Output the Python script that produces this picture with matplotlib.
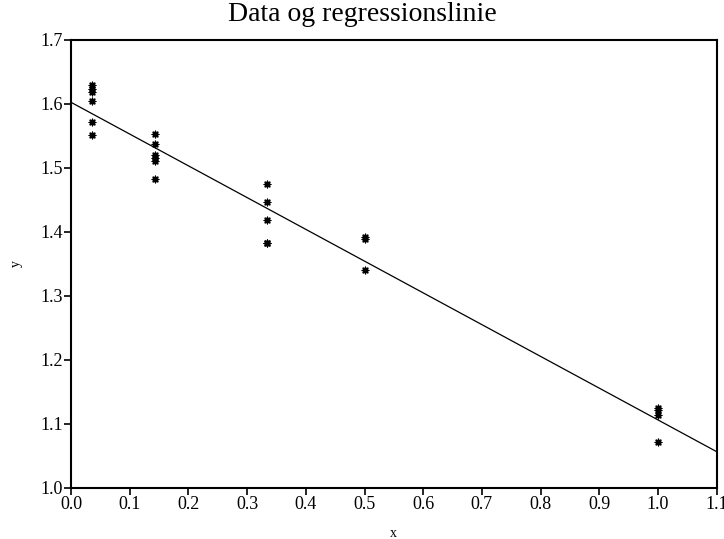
import matplotlib
matplotlib.use("Agg")
import matplotlib.pyplot as plt
import numpy as np

plt.rcParams['font.family'] = ['Liberation Serif', 'DejaVu Serif']

# x groups (concentration-like values) and observed y
x_groups = [1/28, 1/7, 1/3, 0.5, 1.0]
y_groups = [
    [1.629, 1.623, 1.619, 1.604, 1.571, 1.552],
    [1.553, 1.537, 1.520, 1.515, 1.510, 1.483],
    [1.474, 1.447, 1.418, 1.383, 1.382],
    [1.392, 1.389, 1.340],
    [1.124, 1.121, 1.113, 1.071],
]

xs = np.concatenate([[xv] * len(yv) for xv, yv in zip(x_groups, y_groups)])
ys = np.concatenate(y_groups)

slope, intercept = np.polyfit(xs, ys, 1)

fig = plt.figure(figsize=(7.24, 5.39), dpi=100)
ax = fig.add_axes([0.098, 0.095, 0.892, 0.831])

ax.scatter(xs, ys, marker=(8, 2, 0), s=22, color='black', linewidths=1.0, zorder=3)
xline = np.array([0.0, 1.1])
ax.plot(xline, intercept + slope * xline, color='black', linewidth=0.9)

ax.set_xlim(0, 1.1)
ax.set_ylim(1.0, 1.7)
ax.set_xticks(np.arange(0, 1.11, 0.1))
ax.set_xticklabels([f"{v:.1f}" for v in np.arange(0, 1.11, 0.1)])
ax.set_yticks(np.arange(1.0, 1.71, 0.1))
ax.set_yticklabels([f"{v:.1f}" for v in np.arange(1.0, 1.71, 0.1)])
ax.tick_params(direction='out', length=5, width=1.2, labelsize=13, pad=1)
for s in ax.spines.values():
    s.set_linewidth(1.5)

ax.set_xlabel("x", fontsize=10, labelpad=10)
ax.set_ylabel("y", fontsize=10, labelpad=12)
fig.suptitle("Data og regressionslinie", fontsize=20, x=0.5, y=0.997, va='top')

fig.savefig("out.png", dpi=100)
